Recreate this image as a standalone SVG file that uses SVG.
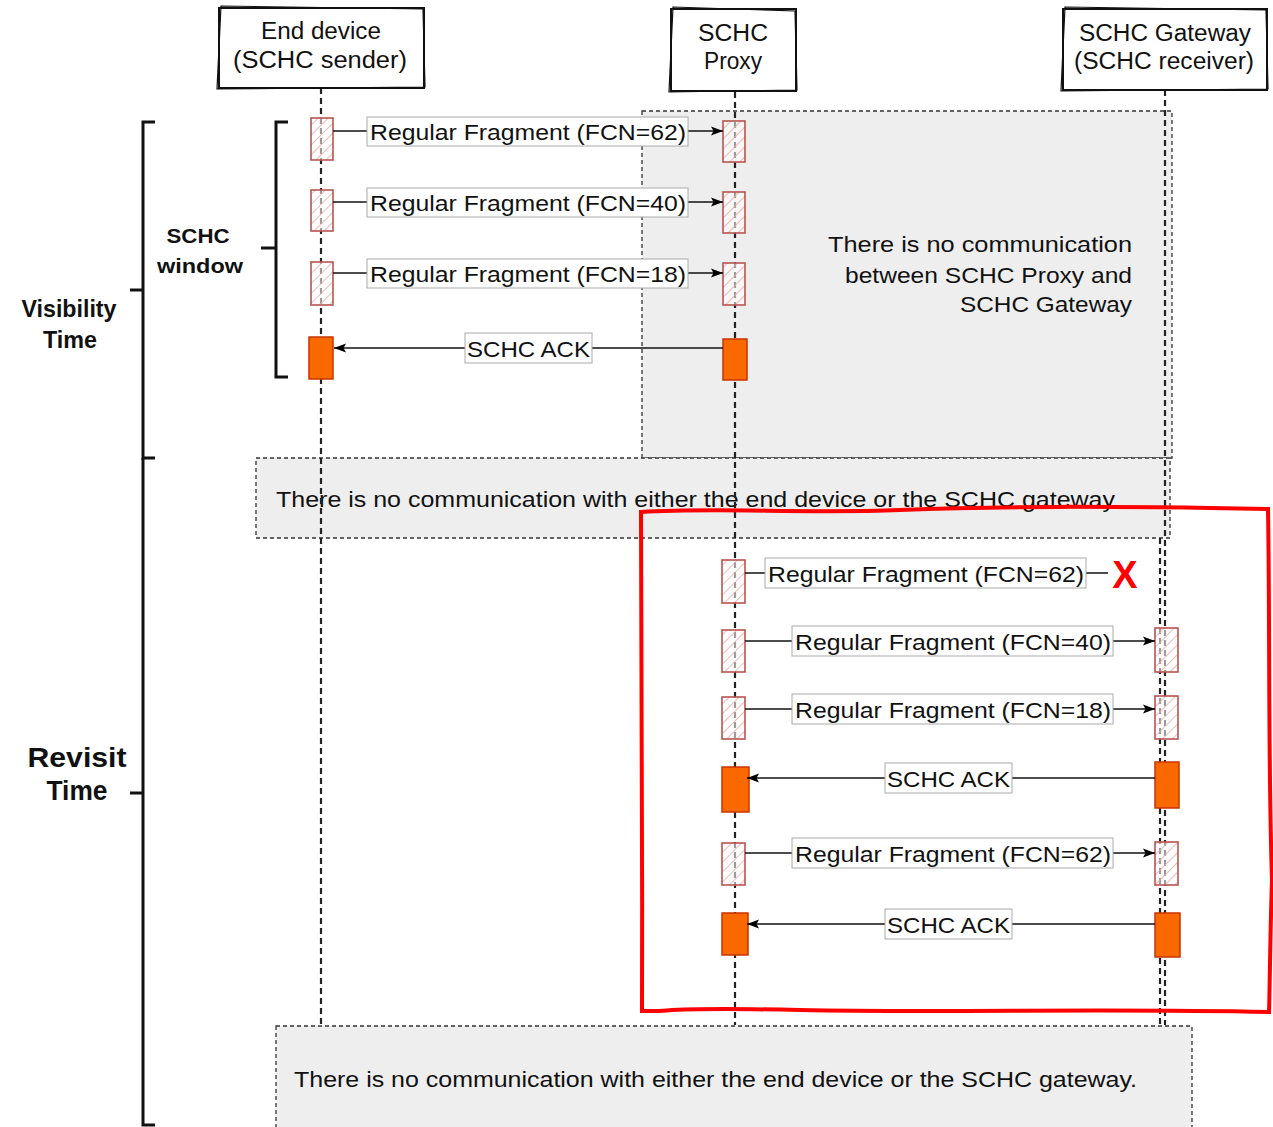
<svg xmlns="http://www.w3.org/2000/svg" width="1273" height="1127" viewBox="0 0 1273 1127">
<defs>
<pattern id="hatch" patternUnits="userSpaceOnUse" width="7" height="7" patternTransform="rotate(45)">
<line x1="0" y1="0" x2="0" y2="7" stroke="#eba9a7" stroke-width="1.6"/>
</pattern>
<marker id="arrow" viewBox="0 0 12 10" refX="12" refY="5" markerWidth="12" markerHeight="10" markerUnits="userSpaceOnUse" orient="auto">
<path d="M0,0.5 L12,5 L0,9.5 L2.5,5 Z" fill="#000"/>
</marker>
<style>
.t{font-family:"Liberation Sans",Arial,sans-serif;font-size:22px;fill:#111}
.h{font-family:"Liberation Sans",Arial,sans-serif;font-size:23px;fill:#111;text-anchor:middle}
.b{font-family:"Liberation Sans",Arial,sans-serif;font-weight:bold;fill:#111;text-anchor:middle}
.life{stroke:#222;stroke-width:2.2;stroke-dasharray:6 4;fill:none}
.note{fill:#eeeeee;stroke:#333;stroke-width:1.3;stroke-dasharray:4 3}
.hdr{fill:#fff;stroke:#111;stroke-width:2}
.hdr2{fill:none;stroke:#111;stroke-width:1.2}
.fragbg{fill:#fff;fill-opacity:0.55;stroke:none}
.frag{fill:url(#hatch);stroke:#b85450;stroke-width:1.6}
.ack{fill:#fa6800;stroke:#c73500;stroke-width:1.5}
.lbl{fill:#fff;stroke:#aaa;stroke-width:1}
.msg{stroke:#111;stroke-width:1.6;fill:none}
.brk{stroke:#111;stroke-width:3;fill:none}
</style>
</defs>
<rect width="1273" height="1127" fill="#fff"/>

<!-- notes (gray areas) -->
<g id="note-proxy-gateway">
<rect class="note" x="642" y="111" width="530" height="347"/>
<text class="t" text-anchor="end" x="1132" y="252" font-size="23" textLength="304" lengthAdjust="spacingAndGlyphs">There is no communication</text>
<text class="t" text-anchor="end" x="1132" y="283" font-size="23" textLength="287" lengthAdjust="spacingAndGlyphs">between SCHC Proxy and</text>
<text class="t" text-anchor="end" x="1132" y="312" font-size="23" textLength="172" lengthAdjust="spacingAndGlyphs">SCHC Gateway</text>
</g>
<g id="note-gap">
<rect class="note" x="256" y="458" width="914" height="80"/>
<text class="t" x="276" y="507" font-size="24" textLength="839" lengthAdjust="spacingAndGlyphs">There is no communication with either the end device or the SCHC gateway</text>
</g>
<g id="note-bottom">
<rect class="note" x="276" y="1026" width="916" height="115"/>
<text class="t" x="294" y="1087" font-size="24" textLength="843" lengthAdjust="spacingAndGlyphs">There is no communication with either the end device or the SCHC gateway.</text>
</g>

<!-- lifelines -->
<g id="lifelines">
<line class="life" x1="321" y1="88" x2="321" y2="1025"/>
<line class="life" x1="735" y1="92" x2="735" y2="1025"/>
<line class="life" x1="1165" y1="90" x2="1165" y2="1025"/>
<line class="life" x1="1160" y1="538" x2="1160" y2="1025"/>
</g>

<!-- headers -->
<g id="end-device">
<rect class="hdr" x="219" y="8" width="205" height="80"/>
<path class="hdr2" d="M221,6 L423,9 L425,87 L217,89 Z"/>
<text class="h" x="321" y="39" textLength="120" lengthAdjust="spacingAndGlyphs">End device</text>
<text class="h" x="320" y="68" textLength="174" lengthAdjust="spacingAndGlyphs">(SCHC sender)</text>
</g>
<g id="schc-proxy">
<rect class="hdr" x="671" y="9" width="125" height="82"/>
<path class="hdr2" d="M673,7 L795,11 L797,90 L669,92 Z"/>
<text class="h" x="733" y="41" textLength="70" lengthAdjust="spacingAndGlyphs">SCHC</text>
<text class="h" x="733" y="69" textLength="58" lengthAdjust="spacingAndGlyphs">Proxy</text>
</g>
<g id="schc-gateway">
<rect class="hdr" x="1063" y="9" width="204" height="81"/>
<path class="hdr2" d="M1065,7 L1266,10 L1268,89 L1061,91 Z"/>
<text class="h" x="1165" y="41" textLength="172" lengthAdjust="spacingAndGlyphs">SCHC Gateway</text>
<text class="h" x="1164" y="69" textLength="180" lengthAdjust="spacingAndGlyphs">(SCHC receiver)</text>
</g>

<!-- brackets -->
<g id="visibility-time">
<path class="brk" d="M155,122 L143,122 L143,458 L155,458"/>
<path class="brk" d="M130,290 L143,290"/>
<text class="b" x="69" y="317" font-size="23" textLength="95" lengthAdjust="spacingAndGlyphs">Visibility</text>
<text class="b" x="70" y="348" font-size="23" textLength="54" lengthAdjust="spacingAndGlyphs">Time</text>
</g>
<g id="revisit-time">
<path class="brk" d="M143,458 L143,1125 L155,1125"/>
<path class="brk" d="M130,793 L143,793"/>
<text class="b" x="77" y="767" font-size="28" textLength="99" lengthAdjust="spacingAndGlyphs">Revisit</text>
<text class="b" x="77" y="800" font-size="28" textLength="61" lengthAdjust="spacingAndGlyphs">Time</text>
</g>
<g id="schc-window">
<path class="brk" d="M288,122 L276,122 L276,377 L288,377"/>
<path class="brk" d="M261,248 L276,248"/>
<text class="b" x="198" y="243" font-size="21" textLength="63" lengthAdjust="spacingAndGlyphs">SCHC</text>
<text class="b" x="200" y="273" font-size="21" textLength="86" lengthAdjust="spacingAndGlyphs">window</text>
</g>

<!-- activation boxes -->
<g id="activations">
<g id="ed-f62"><rect class="fragbg" x="311" y="118" width="22" height="42"/><rect class="frag" x="311" y="118" width="22" height="42"/></g>
<g id="ed-f40"><rect class="fragbg" x="311" y="190" width="22" height="41"/><rect class="frag" x="311" y="190" width="22" height="41"/></g>
<g id="ed-f18"><rect class="fragbg" x="311" y="262" width="22" height="43"/><rect class="frag" x="311" y="262" width="22" height="43"/></g>
<g id="ed-ack"><rect class="ack" x="309" y="337" width="24" height="42"/></g>
<g id="px-f62"><rect class="fragbg" x="723" y="121" width="22" height="41"/><rect class="frag" x="723" y="121" width="22" height="41"/></g>
<g id="px-f40"><rect class="fragbg" x="723" y="192" width="22" height="41"/><rect class="frag" x="723" y="192" width="22" height="41"/></g>
<g id="px-f18"><rect class="fragbg" x="723" y="263" width="22" height="42"/><rect class="frag" x="723" y="263" width="22" height="42"/></g>
<g id="px-ack"><rect class="ack" x="723" y="339" width="24" height="41"/></g>

<g id="px-r62"><rect class="fragbg" x="722" y="560" width="23" height="43"/><rect class="frag" x="722" y="560" width="23" height="43"/></g>
<g id="px-r40"><rect class="fragbg" x="722" y="630" width="23" height="42"/><rect class="frag" x="722" y="630" width="23" height="42"/></g>
<g id="px-r18"><rect class="fragbg" x="722" y="697" width="23" height="42"/><rect class="frag" x="722" y="697" width="23" height="42"/></g>
<g id="px-rack1"><rect class="ack" x="722" y="767" width="27" height="45"/></g>
<g id="px-r62b"><rect class="fragbg" x="722" y="843" width="23" height="42"/><rect class="frag" x="722" y="843" width="23" height="42"/></g>
<g id="px-rack2"><rect class="ack" x="722" y="913" width="26" height="42"/></g>

<g id="gw-r40"><rect class="fragbg" x="1155" y="628" width="23" height="44"/><rect class="frag" x="1155" y="628" width="23" height="44"/></g>
<g id="gw-r18"><rect class="fragbg" x="1155" y="696" width="23" height="43"/><rect class="frag" x="1155" y="696" width="23" height="43"/></g>
<g id="gw-ack1"><rect class="ack" x="1155" y="762" width="24" height="46"/></g>
<g id="gw-r62b"><rect class="fragbg" x="1155" y="842" width="23" height="43"/><rect class="frag" x="1155" y="842" width="23" height="43"/></g>
<g id="gw-ack2"><rect class="ack" x="1155" y="913" width="25" height="44"/></g>
</g>

<!-- connectors -->
<g id="connectors">
<line class="msg" x1="333" y1="131" x2="723" y2="131" marker-end="url(#arrow)"/>
<rect class="lbl" x="367" y="117" width="321" height="29"/>
<text class="t" x="370" y="140" textLength="316" lengthAdjust="spacingAndGlyphs">Regular Fragment (FCN=62)</text>

<line class="msg" x1="333" y1="202" x2="723" y2="202" marker-end="url(#arrow)"/>
<rect class="lbl" x="367" y="188" width="321" height="29"/>
<text class="t" x="370" y="211" textLength="316" lengthAdjust="spacingAndGlyphs">Regular Fragment (FCN=40)</text>

<line class="msg" x1="333" y1="273" x2="723" y2="273" marker-end="url(#arrow)"/>
<rect class="lbl" x="367" y="259" width="321" height="29"/>
<text class="t" x="370" y="282" textLength="316" lengthAdjust="spacingAndGlyphs">Regular Fragment (FCN=18)</text>

<line class="msg" x1="723" y1="348" x2="334" y2="348" marker-end="url(#arrow)"/>
<rect class="lbl" x="465" y="333" width="127" height="30"/>
<text class="t" x="467" y="357" textLength="123" lengthAdjust="spacingAndGlyphs">SCHC ACK</text>

<line class="msg" x1="745" y1="573" x2="1108" y2="573"/>
<rect class="lbl" x="765" y="558" width="321" height="30"/>
<text class="t" x="768" y="582" textLength="316" lengthAdjust="spacingAndGlyphs">Regular Fragment (FCN=62)</text>
<text class="b" x="1125" y="588" font-size="38" style="fill:#ff0000">X</text>

<line class="msg" x1="745" y1="641" x2="1155" y2="641" marker-end="url(#arrow)"/>
<rect class="lbl" x="792" y="626" width="321" height="30"/>
<text class="t" x="795" y="650" textLength="316" lengthAdjust="spacingAndGlyphs">Regular Fragment (FCN=40)</text>

<line class="msg" x1="745" y1="709" x2="1155" y2="709" marker-end="url(#arrow)"/>
<rect class="lbl" x="792" y="694" width="321" height="30"/>
<text class="t" x="795" y="718" textLength="316" lengthAdjust="spacingAndGlyphs">Regular Fragment (FCN=18)</text>

<line class="msg" x1="1155" y1="778" x2="747" y2="778" marker-end="url(#arrow)"/>
<rect class="lbl" x="885" y="763" width="127" height="30"/>
<text class="t" x="887" y="787" textLength="123" lengthAdjust="spacingAndGlyphs">SCHC ACK</text>

<line class="msg" x1="745" y1="853" x2="1155" y2="853" marker-end="url(#arrow)"/>
<rect class="lbl" x="792" y="838" width="321" height="30"/>
<text class="t" x="795" y="862" textLength="316" lengthAdjust="spacingAndGlyphs">Regular Fragment (FCN=62)</text>

<line class="msg" x1="1155" y1="924" x2="747" y2="924" marker-end="url(#arrow)"/>
<rect class="lbl" x="885" y="909" width="127" height="30"/>
<text class="t" x="887" y="933" textLength="123" lengthAdjust="spacingAndGlyphs">SCHC ACK</text>
</g>

<!-- red highlight -->
<g id="highlight">
<path d="M641,512 C720,507 800,514 900,510 S1100,506 1268,509 C1270,620 1268,760 1272,880 C1270,940 1270,980 1269,1012 C1100,1008 950,1013 800,1010 S680,1012 642,1011 C643,850 640,700 641,512 Z" fill="none" stroke="#ff0000" stroke-width="4"/>
</g>
</svg>
